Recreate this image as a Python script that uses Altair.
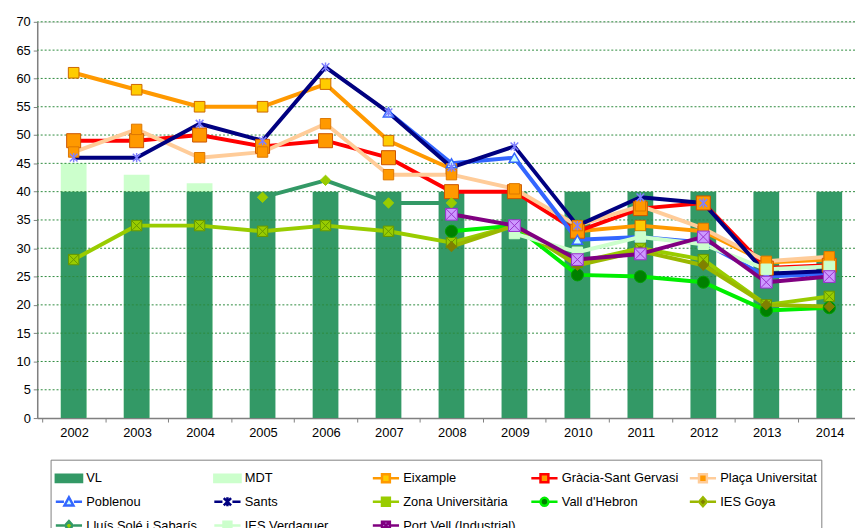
import altair as alt
import pandas as pd

YEARS = list(range(2002, 2015))

VL = [40, 40, 40, 40, 40, 40, 40, 40, 40, 40, 40, 40, 40]
MDT = [45, 43, 41.5, None, None, None, None, None, None, None, None, None, None]

EIXAMPLE = [61, 58, 55, 55, 59, 49, 44, None, 33, 34, 33, 27.5, 28]
GRACIA = [49, 49, 50, 48, 49, 46, 40, 40, 33, 37, 38, 26.5, 27]
PLACA = [47, 51, 46, 47, 52, 43, 43, 40.5, 34, 37.5, 33.5, 27.7, 28.5]
POBLENOU = [None, None, None, None, None, 54, 45, 46, 31.5, 32, 31, 25, 25.5]
SANTS = [46, 46, 52, 49, 62, 54, 44.3, 48, 34, 39, 38, 25.5, 26]
ZONA = [28, 34, 34, 33, 34, 33, 31, 34, 27.5, 30, 28, 20, 21.5]
VALL = [None, None, None, None, None, None, 33, 34, 25.3, 25, 24, 19, 19.5]
GOYA = [None, None, None, None, None, None, 30.3, 34, 27, 29.5, 27, 20, 19.7]
LLUIS = [None, None, None, 39, 42, 38, 38, None, None, None, None, None, None]
VERDAGUER = [None, None, None, None, None, None, None, 32.6, 29.3, 32, 30.7, 26.3, 26.8]
PORTVELL = [None, None, None, None, None, None, 36, 34, 28, 29, 32, 24, 25]

SERIES = ["VL", "MDT", "Eixample", "Gràcia-Sant Gervasi", "Plaça Universitat",
          "Poblenou", "Sants", "Zona Universitària", "Vall d'Hebron", "IES Goya",
          "Lluís Solé i Sabarís", "IES Verdaguer", "Port Vell (Industrial)"]
LINE_VALUES = [EIXAMPLE, GRACIA, PLACA, POBLENOU, SANTS, ZONA, VALL, GOYA,
               LLUIS, VERDAGUER, PORTVELL]
GRID_VALUES = list(range(5, 75, 5))
Y_TICKS = list(range(0, 75, 5))

# ---- styles ----
LINE_COLOR = ["#339966", "#CCFFCC", "#FF9900", "#FF0000", "#FFCC99", "#3366FF",
              "#000080", "#99CC00", "#00EE00", "#9AB800", "#339966", "#CCFFCC",
              "#800080"]
MARK_FILL = ["#339966", "#CCFFCC", "#FFCC00", "#FF9900", "#FF9900", "#CCFFFF",
             "#9999FF", "#99CC00", "#008000", "#808000", "#99CC00", "#CCFFCC",
             "#CC99FF"]

ASTER = "M-1,-1L1,1M-1,1L1,-1M0,-1.2L0,1.2"
XBOX = "M-1,-1H1V1H-1Z M-1,-1L1,1 M1,-1L-1,1"

MARKER = {
    "Eixample": dict(shape="square", size=115, fill="#FFCC00", stroke="#CC6600", strokeWidth=1),
    "Gràcia-Sant Gervasi": dict(shape="square", size=200, fill="#FF9900", stroke="#CC5500", strokeWidth=1),
    "Plaça Universitat": dict(shape="square", size=110, fill="#FF9900", stroke="#DD7700", strokeWidth=1),
    "Poblenou": dict(shape="triangle-up", size=110, fill="#CCFFFF", stroke="#3366FF", strokeWidth=1.5),
    "Sants": dict(shape=ASTER, size=60, fill="#9999FF", stroke="#8080FF", strokeWidth=1.5),
    "Zona Universitària": dict(shape=XBOX, size=110, fill="#99CC00", stroke="#669900", strokeWidth=1),
    "Vall d'Hebron": dict(shape="circle", size=150, fill="#008000", stroke="#00A000", strokeWidth=1),
    "IES Goya": dict(shape="diamond", size=110, fill="#808000", stroke="#808000", strokeWidth=1),
    "Lluís Solé i Sabarís": dict(shape="diamond", size=110, fill="#99CC00", stroke="#99CC00", strokeWidth=1),
    "IES Verdaguer": dict(shape="square", size=110, fill="#CCFFCC", stroke="#CCFFCC", strokeWidth=1),
    "Port Vell (Industrial)": dict(shape=XBOX, size=140, fill="#CC99FF", stroke="#9933CC", strokeWidth=1),
}

# legend symbol paths (unit box)
SEG = "M-1,0H-0.38 M0.38,0H1 "
BAR = "M-1,-0.28H1V0.28H-1Z"
SQ = "M-0.3,-0.3H0.3V0.3H-0.3Z"
LEG_SHAPES = [
    BAR, BAR,
    SEG + SQ, SEG + SQ, SEG + SQ,
    SEG + "M0,-0.34L0.34,0.28H-0.34Z",
    SEG + "M-0.28,-0.28L0.28,0.28M-0.28,0.28L0.28,-0.28M0,-0.34V0.34",
    SEG + SQ + "M-0.3,-0.3L0.3,0.3M0.3,-0.3L-0.3,0.3",
    SEG + "M-0.3,0A0.3,0.3 0 1,0 0.3,0A0.3,0.3 0 1,0 -0.3,0Z",
    SEG + "M0,-0.34L0.3,0L0,0.34L-0.3,0Z",
    SEG + "M0,-0.34L0.3,0L0,0.34L-0.3,0Z",
    SEG + SQ,
    SEG + SQ + "M-0.3,-0.3L0.3,0.3M0.3,-0.3L-0.3,0.3",
]

# ---- data tables ----
bars_vl = pd.DataFrame({"year": YEARS, "value": VL, "series": "VL"})
bars_mdt = pd.DataFrame({"year": YEARS, "value": MDT, "series": "MDT"}).dropna()

rows = []
for name, vals in zip(SERIES[2:], LINE_VALUES):
    seg = 0
    prev_none = True
    for yr, v in zip(YEARS, vals):
        if v is None:
            prev_none = True
            continue
        if prev_none:
            seg += 1
            prev_none = False
        rows.append({"year": yr, "value": v, "series": name, "seg": f"{name}-{seg}"})
lines_df = pd.DataFrame(rows)
grid_df = pd.DataFrame({"v": GRID_VALUES})

W = 825.5
H = 400
x_lo = YEARS[0] - 0.5
x_hi = YEARS[-1] + 0.33
step = W / (x_hi - x_lo)

xscale = alt.Scale(domain=[x_lo, x_hi], nice=False, zero=False)
yscale = alt.Scale(domain=[0, 70], nice=False)

LEG = alt.Legend(
    title=None, orient="none", legendX=13.5, legendY=442, columns=5,
    direction="horizontal",
    gridAlign="all", columnPadding=6, rowPadding=0, symbolSize=700,
    symbolStrokeWidth=2.5, symbolOpacity=1, labelFont="Liberation Sans",
    labelFontSize=13, labelColor="#000000", labelOffset=3,
    strokeColor="#808080", padding=4, fillColor="#FFFFFF", labelLimit=200,
)

fill_enc = alt.Fill("series:N", scale=alt.Scale(domain=SERIES, range=MARK_FILL), legend=LEG, sort=SERIES)
stroke_enc = alt.Stroke("series:N", scale=alt.Scale(domain=SERIES, range=LINE_COLOR), legend=LEG, sort=SERIES)
shape_enc = alt.Shape("series:N", scale=alt.Scale(domain=SERIES, range=LEG_SHAPES), legend=LEG, sort=SERIES)

x_axis = alt.Axis(values=[y - 0.5 for y in YEARS], labelExpr="datum.value + 0.5",
                  labelOffset=step / 2, tickSize=4, tickColor="#808080",
                  domainColor="#808080", domainWidth=1.5, labelPadding=5,
                  labelFlush=False, labelOverlap=False, labelBound=False,
                  labelFont="Liberation Sans", labelFontSize=13,
                  labelColor="#000000", grid=False, title=None)
y_axis = alt.Axis(values=Y_TICKS, tickSize=4, tickColor="#808080",
                  domainColor="#808080", domainWidth=1.5, labelPadding=3,
                  labelOverlap=False, labelFlush=False, labelBound=False,
                  labelFont="Liberation Sans", labelFontSize=13,
                  labelColor="#000000", grid=False, title=None)


def X():
    return alt.X("year:Q", scale=xscale, axis=x_axis)


def Y(field="value:Q"):
    return alt.Y(field, scale=yscale, axis=y_axis)


mdt_layer = alt.Chart(bars_mdt).mark_bar(size=26).encode(x=X(), y=Y(), fill=fill_enc)
vl_layer = alt.Chart(bars_vl).mark_bar(size=26).encode(x=X(), y=Y(), fill=fill_enc)
grid_layer = alt.Chart(grid_df).mark_rule(color="#2E8B3E", strokeDash=[2, 2], strokeWidth=1).encode(
    y=Y("v:Q")
)
line_layer = alt.Chart(lines_df).mark_line(strokeWidth=4, strokeJoin="round").encode(
    x=X(), y=Y(), stroke=stroke_enc, detail="seg:N",
)
dummy_layer = alt.Chart(lines_df).mark_point(filled=True, opacity=0, strokeWidth=2.5).encode(
    x=X(), y=Y(), fill=fill_enc, stroke=stroke_enc, shape=shape_enc,
)

point_layers = []
for name in SERIES[2:]:
    st = MARKER[name]
    point_layers.append(
        alt.Chart(lines_df).transform_filter(alt.datum.series == name).mark_point(
            filled=True, opacity=1, **st
        ).encode(x=X(), y=Y())
    )

chart = alt.layer(mdt_layer, vl_layer, grid_layer, line_layer, *point_layers, dummy_layer).properties(
    width=W, height=H,
    autosize=alt.AutoSizeParams(type="none"),
    padding={"left": 29.5, "top": 11.5, "right": 0, "bottom": 108.5},
).configure_view(stroke=None).configure(background="#FFFFFF")

chart.save("out.html", embed_options={"renderer": "svg", "actions": False})
